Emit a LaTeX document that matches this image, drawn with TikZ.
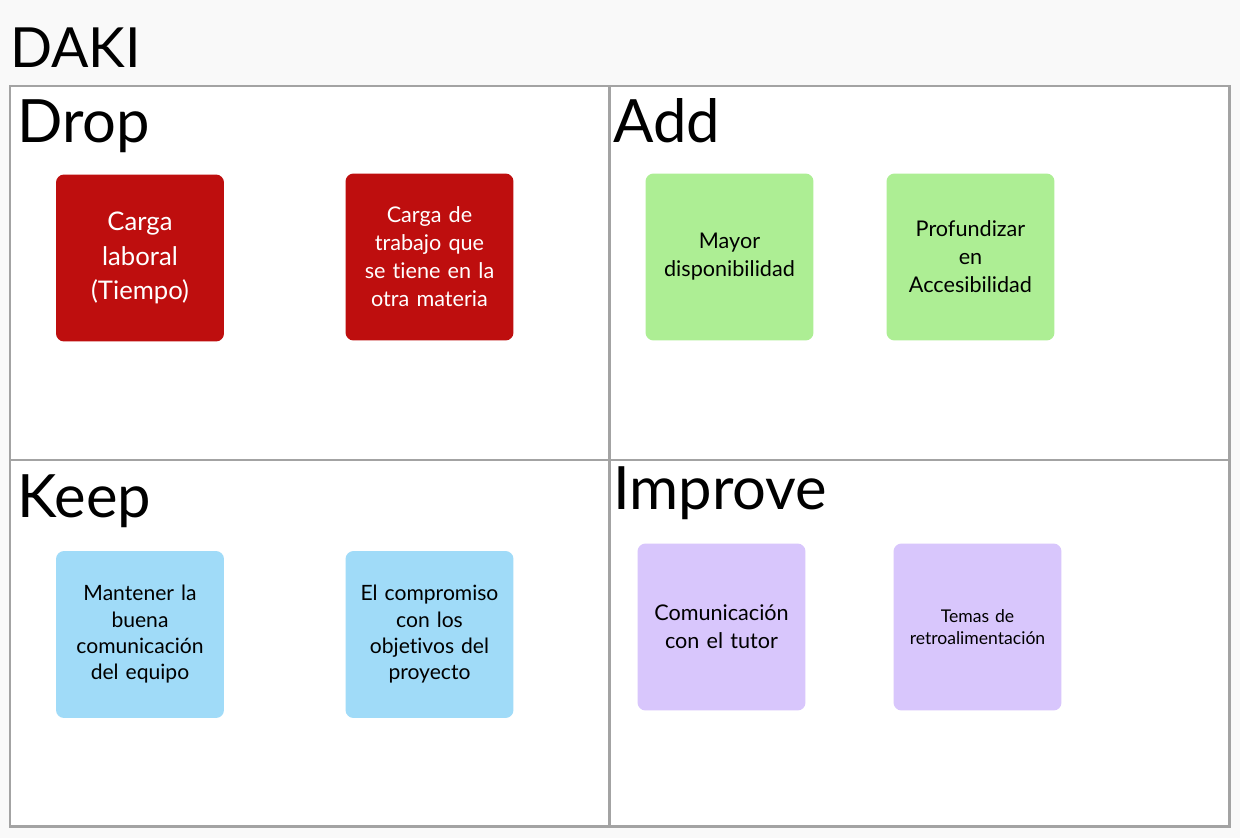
\documentclass[tikz,border=0pt]{standalone}
\usepackage{fontspec}
\setmainfont{Lato}[Ligatures={NoCommon}]
\definecolor{bgc}{HTML}{F9F9F9}
\definecolor{framec}{HTML}{A3A3A3}
\definecolor{dropc}{HTML}{BE0E0E}
\definecolor{addc}{HTML}{ADEE94}
\definecolor{keepc}{HTML}{A0DBF8}
\definecolor{impc}{HTML}{D8C6FC}
\begin{document}
\begin{tikzpicture}[x=0.02cm,y=-0.02cm,
  card/.style={rounded corners=0.16cm, minimum width=3.36cm, minimum height=3.34cm, inner sep=0pt, align=center, text width=3.3cm},
  bigt/.style={font=\fontsize{14.6}{19.8}\selectfont},
  midt/.style={font=\fontsize{12.3}{15.9}\selectfont},
  keept/.style={font=\fontsize{12}{15.0}\selectfont},
  smallt/.style={font=\fontsize{10}{12.5}\selectfont},
  quadtitle/.style={anchor=base west, inner sep=0pt, font=\fontsize{34}{34}\selectfont},
  gridline/.style={draw=framec, line width=1.7pt}
]
\useasboundingbox[fill=bgc] (0,0) rectangle (1240,838);
\fill[white] (10,86) rectangle (1229,826);
\draw[gridline] (10,86) rectangle (1229,826);
\draw[gridline] (609,86) -- (609,826);
\draw[gridline] (10,460) -- (1229,460);

\node[anchor=base west, inner sep=0pt, font=\fontsize{31.5}{31.5}\selectfont] (title) at (10,68) {DAKI};
\node[quadtitle] (drop) at (17,142) {Drop};
\node[quadtitle] (add) at (613,142) {Add};
\node[quadtitle] (keep) at (17,517) {Keep};
\node[quadtitle] (improve) at (613,509) {Improve};

\node[card, fill=dropc, text=white, bigt] (d1) at (140,258) {Carga\\laboral\\(Tiempo)};
\node[card, fill=dropc, text=white, midt] (d2) at (429.5,257) {Carga de\\trabajo que\\se tiene en la\\otra materia};
\node[card, fill=addc, midt] (a1) at (729.5,257) {Mayor\\disponibilidad};
\node[card, fill=addc, midt] (a2) at (970.5,257) {Profundizar\\en\\Accesibilidad};
\node[card, fill=keepc, keept] (k1) at (140,634.5) {Mantener la\\buena\\comunicación\\del equipo};
\node[card, fill=keepc, keept] (k2) at (429.5,634.5) {El compromiso\\con los\\objetivos del\\proyecto};
\node[card, fill=impc, midt] (i1) at (721.5,627) {Comunicación\\con el tutor};
\node[card, fill=impc, smallt] (i2) at (977.5,627) {Temas de\\retroalimentación};
\end{tikzpicture}
\end{document}
